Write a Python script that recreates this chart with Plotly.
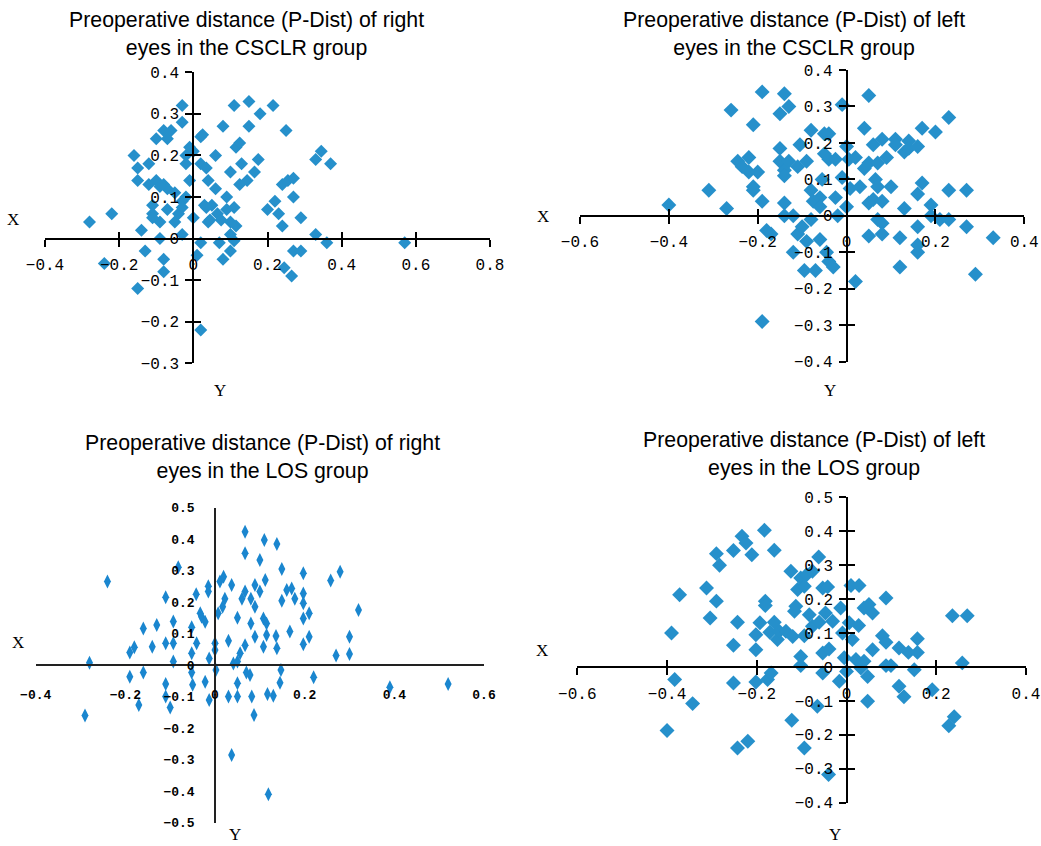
import plotly.graph_objects as go

# ---------------- data ----------------
# Panel 1: right eyes, CSCLR group
p1_x = [-0.28, -0.22, -0.24, -0.16, -0.15, -0.15, -0.15, -0.14, -0.13, -0.12, -0.12, -0.11, -0.11, -0.10,
        -0.10, -0.09, -0.09, -0.08, -0.08, -0.08, -0.07, -0.06, -0.08, -0.07, -0.07, -0.05, -0.04, -0.03,
        -0.03, -0.02, -0.02, -0.03, -0.03, -0.02, -0.01, -0.01, 0.00, 0.00, 0.01, 0.02, 0.02, 0.02, 0.025,
        0.02, 0.035, 0.04, 0.03, 0.04, 0.06, 0.06, 0.05, 0.065, 0.07, 0.08, 0.08, 0.09, 0.09, 0.10, 0.10,
        0.11, 0.115, 0.125, 0.115, 0.11, 0.10, 0.125, 0.13, 0.145, 0.15, 0.15, 0.165, 0.175, 0.18, 0.215,
        0.20, 0.22, 0.23, 0.24, 0.24, 0.25, 0.255, 0.27, 0.27, 0.29, 0.27, 0.29, 0.245, 0.265, 0.33, 0.33,
        0.345, 0.37, 0.36, 0.57, 0.035, 0.045, 0.075, 0.11, 0.10, -0.03, -0.05, -0.09, -0.11]
p1_y = [0.04, 0.06, -0.06, 0.20, 0.17, 0.14, -0.12, 0.02, -0.03, 0.18, 0.13, 0.08, 0.06, 0.24,
        0.14, 0.04, 0.00, -0.05, -0.08, 0.26, 0.24, 0.26, 0.13, 0.12, 0.07, 0.04, 0.06, 0.32,
        0.28, 0.20, 0.18, 0.09, 0.01, 0.10, 0.14, 0.22, 0.21, 0.05, -0.04, -0.01, -0.22, 0.245, 0.25,
        0.18, 0.17, 0.14, 0.08, 0.04, 0.20, 0.12, 0.08, 0.06, -0.01, 0.27, -0.05, 0.10, 0.07, 0.04, 0.16,
        0.32, 0.22, 0.23, 0.03, -0.005, -0.03, 0.13, 0.18, 0.14, 0.27, 0.33, 0.16, 0.19, 0.30, 0.32,
        0.07, 0.09, 0.06, 0.03, 0.13, 0.26, 0.14, 0.145, 0.10, 0.05, -0.03, -0.03, -0.07, -0.09, 0.01, 0.19,
        0.21, 0.18, -0.01, -0.01, 0.075, 0.045, 0.045, 0.075, 0.01, 0.075, 0.11, 0.125, 0.05]

# Panel 2: left eyes, CSCLR group
p2_x = [-0.40, -0.31, -0.27, -0.26, -0.21, -0.19, -0.245, -0.235, -0.22, -0.22, -0.21, -0.20, -0.21, -0.19,
        -0.18, -0.17, -0.19, -0.14, -0.13, -0.15, -0.15, -0.15, -0.14, -0.14, -0.13, -0.14, -0.14, -0.12,
        -0.12, -0.11, -0.105, -0.09, -0.08, -0.11, -0.10, -0.095, -0.07, -0.09, -0.08, -0.08, -0.075, -0.06,
        -0.06, -0.06, -0.055, -0.05, -0.04, -0.05, -0.045, -0.04, -0.03, -0.04, -0.025, -0.025, -0.02, -0.01,
        -0.01, 0.00, 0.005, 0.008, 0.00, 0.02, 0.02, 0.03, 0.04, 0.04, 0.05, 0.05, 0.05, 0.05, 0.06, 0.07,
        0.065, 0.07, 0.06, 0.08, 0.07, 0.08, 0.08, 0.08, 0.09, 0.10, 0.11, 0.11, 0.13, 0.14, 0.14, 0.16,
        0.17, 0.20, 0.23, 0.13, 0.12, 0.12, 0.16, 0.17, 0.16, 0.16, 0.16, 0.19, 0.19, 0.21, 0.23, 0.23,
        0.27, 0.27, 0.29, 0.33]
p2_y = [0.03, 0.07, 0.02, 0.29, 0.25, 0.34, 0.15, 0.135, 0.16, 0.12, 0.08, 0.12, 0.07, 0.04,
        -0.04, -0.05, -0.29, 0.335, 0.30, 0.28, 0.185, 0.15, 0.125, 0.11, 0.15, 0.035, 0.00, 0.00,
        -0.10, 0.135, 0.195, 0.15, 0.235, -0.05, -0.03, -0.15, -0.15, -0.07, -0.01, 0.07, 0.04, 0.05,
        0.025, -0.065, 0.10, 0.225, 0.225, 0.17, -0.10, -0.125, -0.14, 0.155, 0.155, 0.05, 0.00, 0.305,
        0.105, 0.19, 0.155, 0.075, 0.025, 0.16, -0.18, 0.08, 0.13, 0.24, 0.33, 0.145, 0.035, -0.055, 0.195, 0.145,
        0.10, 0.08, 0.045, 0.04, -0.01, -0.02, -0.05, 0.21, 0.16, 0.08, 0.21, 0.195, 0.175, 0.205, 0.185, 0.19,
        0.24, 0.23, 0.27, 0.02, -0.06, -0.14, 0.06, 0.09, -0.03, -0.08, -0.10, 0.03, 0.00, -0.01, -0.01, 0.07,
        0.07, -0.03, -0.16, -0.06]

# Panel 3: right eyes, LOS group
p3_x = [-0.24, -0.28, -0.29, -0.19, -0.18, -0.19, -0.17, -0.16, -0.16, -0.14, -0.13, -0.11, -0.11, -0.11,
        -0.11, -0.10, -0.093, -0.093, -0.093, -0.082, -0.052, -0.052, -0.052, -0.05, -0.042, -0.041, -0.033,
        -0.03, -0.022, -0.022, -0.015, -0.015, -0.013, -0.013, 0.00, 0.00, 0.002, 0.007, 0.011, 0.019, 0.022,
        0.017, 0.03, 0.03, 0.037, 0.041, 0.05, 0.05, 0.05, 0.05, 0.056, 0.06, 0.067, 0.067, 0.067, 0.067,
        0.07, 0.078, 0.08, 0.08, 0.082, 0.087, 0.089, 0.089, 0.089, 0.037, 0.10, 0.10, 0.11, 0.112, 0.108,
        0.108, 0.115, 0.115, 0.117, 0.119, 0.13, 0.136, 0.138, 0.138, 0.145, 0.147, 0.149, 0.149, 0.16,
        0.167, 0.171, 0.178, 0.197, 0.197, 0.197, 0.197, 0.197, 0.21, 0.21, 0.22, 0.258, 0.27, 0.279,
        0.30, 0.30, 0.32, 0.39, 0.52]
p3_y = [0.265, 0.007, -0.16, 0.04, 0.056, -0.037, -0.127, -0.024, 0.116, 0.058, 0.127, 0.215, 0.069, -0.06,
        -0.10, -0.135, 0.138, 0.069, 0.011, 0.31, 0.12, 0.037, -0.024, -0.063, 0.225, 0.069, 0.164,
        0.153, 0.137, -0.053, 0.25, 0.233, 0.021, -0.111, 0.069, 0.048, -0.016, 0.164, 0.265, 0.28, 0.21,
        0.185, 0.077, -0.10, 0.254, 0.005, 0.15, 0.011, -0.058, -0.10, 0.037, 0.21, 0.423, 0.355, 0.233, 0.063,
        -0.024, -0.032, 0.132, 0.21, -0.10, -0.159, 0.254, 0.09, 0.185, -0.286, 0.333, 0.233, 0.397, 0.27, 0.148,
        0.058, 0.132, 0.095, -0.092, -0.41, -0.098, 0.092, 0.053, 0.384, -0.056, -0.016, 0.305, 0.204, 0.238,
        0.106, 0.243, 0.21, 0.291, 0.227, 0.196, 0.148, 0.066, 0.164, 0.09, -0.039, 0.268, 0.03, 0.296,
        0.09, 0.035, 0.175, -0.071, -0.06]

# Panel 4: left eyes, LOS group
p4_x = [-0.39, -0.372, -0.40, -0.383, -0.343, -0.312, -0.304, -0.29, -0.29, -0.283, -0.252, -0.252, -0.252,
        -0.243, -0.243, -0.233, -0.224, -0.211, -0.22, -0.202, -0.202, -0.202, -0.193, -0.183, -0.181, -0.181,
        -0.176, -0.171, -0.168, -0.161, -0.161, -0.154, -0.15, -0.135, -0.124, -0.12, -0.122, -0.113, -0.116,
        -0.109, -0.102, -0.102, -0.102, -0.094, -0.094, -0.094, -0.089, -0.076, -0.083, -0.076, -0.065, -0.062,
        -0.061, -0.053, -0.053, -0.053, -0.047, -0.042, -0.04, -0.039, -0.031, -0.016, -0.013, -0.009, -0.005,
        0.00, 0.006, 0.01, 0.013, 0.021, 0.027, 0.028, 0.032, 0.039, 0.039, 0.047, 0.047, 0.05, 0.058, 0.058,
        0.08, 0.088, 0.088, 0.088, 0.099, 0.117, 0.117, 0.128, 0.138, 0.151, 0.158, 0.158, 0.191, 0.228,
        0.24, 0.236, 0.269, 0.258]
p4_y = [0.10, 0.213, -0.187, -0.037, -0.108, 0.233, 0.144, 0.194, 0.334, 0.30, 0.343, 0.064, -0.047,
        0.132, -0.239, 0.385, 0.365, 0.331, -0.219, 0.095, 0.051, -0.044, 0.13, 0.403, 0.194, 0.181,
        -0.037, 0.102, -0.018, 0.344, 0.132, 0.081, 0.105, 0.105, 0.282, 0.09, -0.157, 0.179, 0.164,
        0.228, 0.262, 0.031, 0.004, 0.238, 0.092, -0.239, 0.272, 0.282, 0.154, 0.12, -0.116, 0.324,
        0.132, 0.233, 0.041, -0.018, 0.159, 0.236, -0.317, 0.053, 0.135, -0.042, 0.174, 0.10, 0.027,
        -0.013, 0.13, 0.24, 0.081, 0.022, 0.122, 0.24, -0.003, 0.174, 0.017, -0.101, -0.028, 0.184, 0.159, 0.051,
        0.092, 0.203, 0.073, 0.004, 0.004, 0.056, -0.057, -0.088, 0.043, -0.008, 0.083, 0.043, -0.067, -0.173,
        -0.147, 0.151, 0.151, 0.012]

titles = [
    "Preoperative distance (P-Dist) of right<br>eyes in the CSCLR group",
    "Preoperative distance (P-Dist) of left<br>eyes in the CSCLR group",
    "Preoperative distance (P-Dist) of right<br>eyes in the LOS group",
    "Preoperative distance (P-Dist) of left<br>eyes in the LOS group",
]

# ---------------- layout geometry ----------------
W, H = 1041, 846
MONO = "Liberation Mono"


def px_x(p):
    return p / W


def px_y(p):
    return 1 - p / H


panels = [
    dict(x=p1_x, y=p1_y, xr=[-0.4, 0.8], yr=[-0.3, 0.4], xd=(45, 490), yd=(72.3, 363.3),
         x0=193.3, y0=238.6, ms=10, sym="diamond", col="#2690cb", style="a",
         title_xy=(246, 34.5), X=(13, 220), Y=(220, 390)),
    dict(x=p2_x, y=p2_y, xr=[-0.6, 0.4], yr=[-0.4, 0.4], xd=(580, 1024.3), yd=(70, 361.7),
         x0=846.7, y0=215.8, ms=11.5, sym="diamond", col="#2690cb", style="a",
         title_xy=(794, 34.5), X=(543, 217), Y=(830, 390)),
    dict(x=p3_x, y=p3_y, xr=[-0.4, 0.6], yr=[-0.5, 0.5], xd=(35.7, 484), yd=(507.5, 822.5),
         x0=215, y0=665, ms=10, sym="diamond-tall", col="#1a86cf", style="b",
         title_xy=(262, 456.5), X=(18, 642), Y=(235, 834)),
    dict(x=p4_x, y=p4_y, xr=[-0.6, 0.4], yr=[-0.4, 0.5], xd=(577.3, 1026), yd=(497.3, 802.7),
         x0=847.3, y0=667.3, ms=11.5, sym="diamond", col="#2690cb", style="a",
         title_xy=(814, 453.5), X=(542, 650), Y=(835, 834)),
]

fig = go.Figure()
layout = dict(
    template="none",
    width=W, height=H, margin=dict(l=0, r=0, t=0, b=0, pad=0, autoexpand=False),
    paper_bgcolor="white", plot_bgcolor="white", showlegend=False,
)
annotations = []
n = len(panels)

for i, p in enumerate(panels, start=1):
    sfx = "" if i == 1 else str(i)
    fig.add_trace(go.Scatter(
        x=p["x"], y=p["y"], mode="markers", xaxis="x" + sfx, yaxis="y" + sfx,
        marker=dict(symbol=p["sym"], size=p["ms"], color=p["col"], line=dict(width=0)),
        hoverinfo="x+y",
    ))
    xdom = [px_x(p["xd"][0]), px_x(p["xd"][1])]
    ydom = [px_y(p["yd"][1]), px_y(p["yd"][0])]
    xpos = px_y(p["y0"])
    ypos = px_x(p["x0"])
    if p["style"] == "a":
        tf = dict(family=MONO, size=16, color="black")
        common = dict(showgrid=False, zeroline=False, showline=True, linecolor="black", linewidth=2,
                      ticks="outside", ticklen=7, tickwidth=2, tickcolor="black", tickfont=tf,
                      automargin=False)
        xstand, ystand = 4, 3
    else:
        tf = dict(family=MONO, size=13, color="black", weight="bold")
        common = dict(showgrid=False, zeroline=False, showline=True, linecolor="#222", linewidth=1.5,
                      ticks="", tickfont=tf, automargin=False)
        xstand, ystand = 18, 17
    layout["xaxis" + sfx] = dict(
        common, range=p["xr"], dtick=0.2, tick0=0, anchor="free",
        domain=xdom, position=xpos, ticklabelstandoff=xstand, fixedrange=True,
    )
    layout["yaxis" + sfx] = dict(
        common, range=p["yr"], dtick=0.1, tick0=0, anchor="free",
        domain=ydom, position=ypos, ticklabelstandoff=ystand, fixedrange=True,
    )
    # second set of ticks on the other side of each axis line (cross ticks)
    if p["style"] == "a":
        k = i + n
        ov = dict(showgrid=False, zeroline=False, showline=False, ticks="inside", ticklen=7,
                  tickwidth=2, tickcolor="black", showticklabels=False, fixedrange=True,
                  automargin=False)
        layout["xaxis%d" % k] = dict(ov, range=p["xr"], dtick=0.2, tick0=0, anchor="free",
                                     domain=xdom, position=xpos, overlaying="x" + sfx)
        layout["yaxis%d" % k] = dict(ov, range=p["yr"], dtick=0.1, tick0=0, anchor="free",
                                     domain=ydom, position=ypos, overlaying="y" + sfx)
        fig.add_trace(go.Scatter(x=[], y=[], mode="markers", xaxis="x%d" % k, yaxis="y%d" % k,
                                 hoverinfo="skip", showlegend=False))
    annotations.append(dict(
        text=titles[i - 1], x=px_x(p["title_xy"][0]), y=px_y(p["title_xy"][1]),
        xref="paper", yref="paper", showarrow=False, xanchor="center", yanchor="middle",
        font=dict(family="Liberation Sans", size=21.3, color="black"), align="center",
    ))
    for lab, key in (("X", "X"), ("Y", "Y")):
        annotations.append(dict(
            text=lab, x=px_x(p[key][0]), y=px_y(p[key][1]), xref="paper", yref="paper",
            showarrow=False, xanchor="center", yanchor="middle",
            font=dict(family="Liberation Serif", size=17, color="black"),
        ))

layout["annotations"] = annotations
fig.update_layout(**layout)
fig.write_html("out.html", config={"displayModeBar": False},
               post_script="document.body.style.margin='0';document.body.style.overflow='hidden';")
